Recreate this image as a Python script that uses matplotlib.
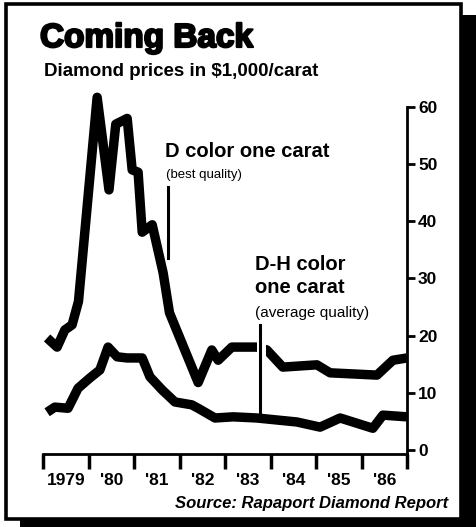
import matplotlib
matplotlib.use("Agg")
import matplotlib.pyplot as plt
from matplotlib.patches import Rectangle
import matplotlib.patheffects as pe

# ---- data ----
years_d = [1979.09, 1979.31, 1979.48, 1979.64, 1979.78, 1980.19, 1980.45, 1980.60,
           1980.85, 1980.96, 1981.09, 1981.18, 1981.40, 1981.64, 1981.78, 1982.41,
           1982.71, 1982.85, 1983.15, 1983.70, 1983.92, 1984.27, 1985.02, 1985.31,
           1986.34, 1986.69, 1987.0]
values_d = [19.6, 18.0, 21.0, 21.9, 26.0, 61.7, 45.5, 57.0,
            58.0, 49.0, 48.6, 38.1, 39.4, 31.0, 24.0, 11.8,
            17.5, 15.7, 18.0, 18.0, 17.5, 14.5, 14.9, 13.5,
            13.1, 15.7, 16.1]

years_dh = [1979.09, 1979.26, 1979.55, 1979.77, 1980.03, 1980.25, 1980.43, 1980.63,
            1980.85, 1981.18, 1981.35, 1981.62, 1981.90, 1982.27, 1982.41, 1982.78,
            1983.18, 1983.70, 1984.58, 1985.09, 1985.53, 1986.25, 1986.47, 1987.0]
values_dh = [6.6, 7.5, 7.3, 10.8, 12.6, 14.0, 18.0, 16.3,
             16.1, 16.1, 12.8, 10.5, 8.4, 7.9, 7.3, 5.6,
             5.8, 5.6, 4.9, 4.0, 5.6, 3.8, 6.1, 5.8]

year_ticks = [1979, 1980, 1981, 1982, 1983, 1984, 1985, 1986, 1987]
year_labels = ["1979", "'80", "'81", "'82", "'83", "'84", "'85", "'86"]
y_ticks = [0, 10, 20, 30, 40, 50, 60]

FONT = ["Liberation Sans", "DejaVu Sans"]
plt.rcParams["font.family"] = FONT

W, H = 476, 527
fig = plt.figure(figsize=(W / 100, H / 100), dpi=100)
fig.patch.set_facecolor("white")


def fx(px):
    return px / W


def fy(py):
    return 1 - py / H


# ---- frame and shadow ----
fig.patches.append(Rectangle((fx(462), fy(527)), fx(476) - fx(462), fy(15) - fy(527),
                             transform=fig.transFigure, facecolor="black", edgecolor="none"))
fig.patches.append(Rectangle((fx(20), fy(527)), fx(476) - fx(20), fy(519) - fy(527),
                             transform=fig.transFigure, facecolor="black", edgecolor="none"))
fig.patches.append(Rectangle((fx(6), fy(519)), fx(461) - fx(6), fy(4) - fy(519),
                             transform=fig.transFigure, facecolor="none", edgecolor="black",
                             linewidth=2.6))

ax = fig.add_axes([fx(43), fy(454), fx(407) - fx(43), fy(107) - fy(454)])
ax.set_xlim(1979, 1987)
ax.set_ylim(-0.7, 60)
ax.patch.set_alpha(0)

ax.plot(years_d, values_d, color="black", lw=6.8, solid_joinstyle="round",
        solid_capstyle="butt", zorder=3, clip_on=False)
ax.plot(years_dh, values_dh, color="black", lw=6.8, solid_joinstyle="round",
        solid_capstyle="butt", zorder=3, clip_on=False)

# gap in the upper line where the D-H pointer passes
ax.plot([1983.80, 1983.80], [15.0, 21.0], color="white", lw=6.5, solid_capstyle="butt", zorder=4)
# pointer lines
ax.plot([1983.77, 1983.77], [6.5, 21.9], color="black", lw=2.2, zorder=5)
ax.plot([1981.75, 1981.75], [33.6, 46.0], color="black", lw=2.2, zorder=5)

for s in ["left", "top"]:
    ax.spines[s].set_visible(False)
for s in ["bottom", "right"]:
    ax.spines[s].set_linewidth(2)

ax.yaxis.tick_right()
ax.set_yticks(y_ticks)
ax.set_yticklabels([str(v) for v in y_ticks])
ax.tick_params(axis="y", direction="out", length=6, width=2, pad=2, labelsize=12.5)

ax.set_xticks(year_ticks)
ax.set_xticklabels([])
ax.tick_params(axis="x", which="major", direction="out", length=11, width=2.5)
ax.set_xticks([y + 0.5 for y in year_ticks[:-1]], minor=True)
ax.set_xticklabels(year_labels, minor=True)
ax.tick_params(axis="x", which="minor", length=0, pad=14, labelsize=12.5)
for lab in ax.get_xticklabels(minor=True) + ax.get_yticklabels():
    lab.set_fontweight("bold")

# ---- texts ----
heavy = [pe.withStroke(linewidth=1.6, foreground="black")]
fig.text(fx(40), fy(47), "Coming Back", fontsize=24, fontweight="bold", va="baseline", ha="left",
         path_effects=heavy)
fig.text(fx(44), fy(76), "Diamond prices in $1,000/carat", fontsize=13.5, fontweight="bold",
         va="baseline", ha="left")
fig.text(fx(165), fy(157), "D color one carat", fontsize=14.5, fontweight="bold",
         va="baseline", ha="left")
fig.text(fx(166), fy(178), "(best quality)", fontsize=9.5, va="baseline", ha="left")
fig.text(fx(255), fy(270), "D-H color", fontsize=14.5, fontweight="bold", va="baseline", ha="left")
fig.text(fx(255), fy(293), "one carat", fontsize=14.5, fontweight="bold", va="baseline", ha="left")
fig.text(fx(255), fy(317), "(average quality)", fontsize=11, va="baseline", ha="left")
fig.text(fx(448), fy(508), "Source: Rapaport Diamond Report", fontsize=12, fontweight="bold",
         style="italic", va="baseline", ha="right")

fig.savefig("out.png", dpi=100, facecolor="white")
